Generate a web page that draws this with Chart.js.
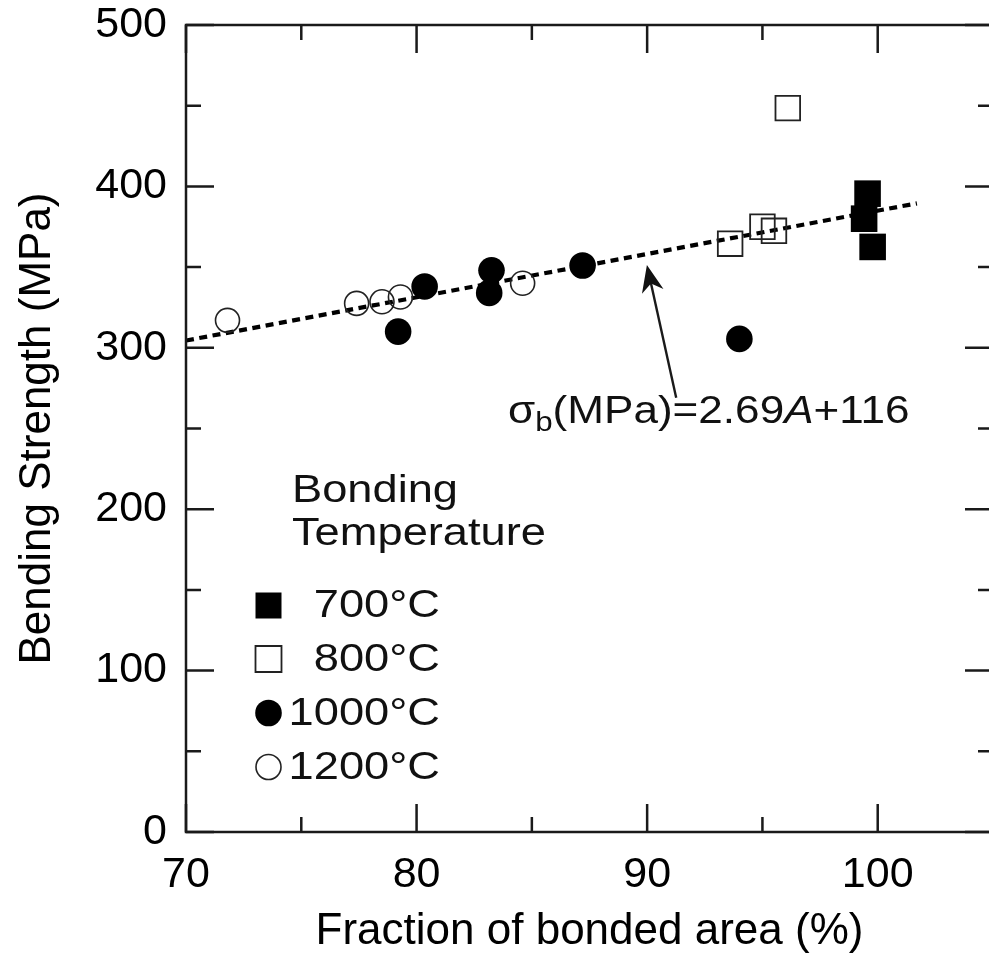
<!DOCTYPE html>
<html>
<head>
<meta charset="utf-8">
<script src="https://cdn.jsdelivr.net/npm/chart.js@4.4.0/dist/chart.umd.min.js"></script>
<style>
  html, body { margin: 0; padding: 0; background: #fff; overflow: hidden; }
</style>
</head>
<body>
<canvas id="chart" width="1000" height="966"></canvas>
<script>
// values
const temps = ['700°C', '800°C', '1000°C', '1200°C'];

const area700 = [99.56, 99.41, 99.78];
const strength700 = [395.5, 380, 362.5];

const area800 = [96.1, 93.6, 95.0, 95.5];
const strength800 = [448.5, 364.5, 375, 372.5];

const area1000 = [79.2, 80.35, 83.25, 83.15, 87.2, 94.0];
const strength1000 = [310, 338, 348, 334, 351, 305.5];

const area1200 = [71.8, 77.4, 78.5, 79.3, 84.6];
const strength1200 = [317, 327.5, 328.5, 331.5, 340];

const fitArea = [70, 101.7];
const fitStrength = [304.5, 389.5];

const xLabels = [70, 80, 90, 100];
const yLabels = [0, 100, 200, 300, 400, 500];

const FONT = '"Liberation Sans", Arial, Helvetica, sans-serif';
const INK = '#111';

const pts = (xs, ys) => xs.map((x, i) => ({ x, y: ys[i] }));

const markers = [
  { pointStyle: 'rect', radius: 18.8, fill: '#000', stroke: '#000', width: 0 },
  { pointStyle: 'rect', radius: 17.4, fill: 'rgba(0,0,0,0)', stroke: '#222', width: 1.8 },
  { pointStyle: 'circle', radius: 13.3, fill: '#000', stroke: '#000', width: 0 },
  { pointStyle: 'circle', radius: 12, fill: 'rgba(0,0,0,0)', stroke: '#222', width: 1.6 }
];
const series = [pts(area700, strength700), pts(area800, strength800), pts(area1000, strength1000), pts(area1200, strength1200)];

const datasets = series.map((data, i) => ({
  label: temps[i],
  data,
  pointStyle: markers[i].pointStyle,
  pointRadius: markers[i].radius,
  pointHoverRadius: markers[i].radius,
  backgroundColor: markers[i].fill,
  borderColor: markers[i].stroke,
  borderWidth: markers[i].width,
  order: 0
}));

datasets.push({
  label: 'fit',
  data: pts(fitArea, fitStrength),
  showLine: true,
  borderColor: '#000',
  borderWidth: 4.2,
  borderDash: [8, 5.5],
  pointRadius: 0,
  order: 10
});

function stretchedText(ctx, text, x, y, sx) {
  ctx.save();
  ctx.translate(x, y);
  ctx.scale(sx, 1);
  ctx.fillText(text, 0, 0);
  ctx.restore();
  return ctx.measureText(text).width * sx;
}

const frameAndTicks = {
  id: 'frameAndTicks',
  afterDatasetsDraw(chart) {
    const { ctx, chartArea: a, scales: { x, y } } = chart;
    ctx.save();
    ctx.strokeStyle = '#1a1a1a';
    ctx.lineWidth = 2.5;
    ctx.strokeRect(a.left, a.top, a.right - a.left, a.bottom - a.top);
    ctx.beginPath();
    x.ticks.forEach(t => {
      const px = x.getPixelForValue(t.value);
      const len = t.value % 10 === 0 ? 28 : 15;
      ctx.moveTo(px, a.bottom); ctx.lineTo(px, a.bottom - len);
      ctx.moveTo(px, a.top); ctx.lineTo(px, a.top + len);
    });
    y.ticks.forEach(t => {
      const py = y.getPixelForValue(t.value);
      const len = t.value % 100 === 0 ? 28 : 15;
      ctx.moveTo(a.left, py); ctx.lineTo(a.left + len, py);
      ctx.moveTo(a.right, py); ctx.lineTo(a.right - len, py);
    });
    ctx.stroke();

    // arrow pointing at the fit line
    const tail = { x: x.getPixelForValue(91.26), y: y.getPixelForValue(269) };
    const tip = { x: x.getPixelForValue(89.99), y: y.getPixelForValue(351.3) };
    const ang = Math.atan2(tip.y - tail.y, tip.x - tail.x);
    ctx.lineWidth = 2.4;
    ctx.beginPath();
    ctx.moveTo(tail.x, tail.y);
    ctx.lineTo(tip.x - 18 * Math.cos(ang), tip.y - 18 * Math.sin(ang));
    ctx.stroke();
    ctx.fillStyle = '#111';
    ctx.beginPath();
    ctx.moveTo(tip.x, tip.y);
    ctx.lineTo(tip.x - 27 * Math.cos(ang) + 11 * Math.sin(ang), tip.y - 27 * Math.sin(ang) - 11 * Math.cos(ang));
    ctx.lineTo(tip.x - 19 * Math.cos(ang), tip.y - 19 * Math.sin(ang));
    ctx.lineTo(tip.x - 27 * Math.cos(ang) - 11 * Math.sin(ang), tip.y - 27 * Math.sin(ang) + 11 * Math.cos(ang));
    ctx.closePath();
    ctx.fill();

    // equation
    const sx = 1.16;
    ctx.fillStyle = INK;
    ctx.textBaseline = 'alphabetic';
    ctx.textAlign = 'left';
    let cx = 508;
    const base = 423;
    ctx.font = `38px ${FONT}`;
    cx += stretchedText(ctx, 'σ', cx, base, sx);
    ctx.font = `27px ${FONT}`;
    cx += stretchedText(ctx, 'b', cx, base + 8, sx);
    ctx.font = `38px ${FONT}`;
    cx += stretchedText(ctx, '(MPa)=2.69', cx, base, sx);
    ctx.font = `italic 38px ${FONT}`;
    cx += stretchedText(ctx, 'A', cx, base, sx);
    ctx.font = `38px ${FONT}`;
    stretchedText(ctx, '+116', cx, base, sx);

    // legend
    ctx.font = `39px ${FONT}`;
    stretchedText(ctx, 'Bonding', 292, 502, sx);
    stretchedText(ctx, 'Temperature', 292, 545, sx);
    const rows = [605.5, 659, 713, 767];
    const mx = 268.5;
    rows.forEach((ry, i) => {
      const m = markers[i];
      ctx.beginPath();
      if (m.pointStyle === 'rect') {
        ctx.rect(mx - 13, ry - 13, 26, 26);
      } else {
        ctx.arc(mx, ry, m.width ? 12.5 : 13.3, 0, Math.PI * 2);
      }
      if (m.width) {
        ctx.lineWidth = m.width;
        ctx.strokeStyle = m.stroke;
        ctx.stroke();
      } else {
        ctx.fillStyle = m.fill;
        ctx.fill();
      }
      ctx.fillStyle = INK;
      ctx.textBaseline = 'middle';
      const w = ctx.measureText(temps[i]).width * sx;
      stretchedText(ctx, temps[i], 440 - w, ry + 1, sx);
    });
    ctx.restore();
  }
};

new Chart(document.getElementById('chart'), {
  type: 'scatter',
  data: { datasets },
  options: {
    responsive: false,
    animation: false,
    events: [],
    layout: { autoPadding: false, padding: { left: 0, top: 25, right: 7, bottom: 0 } },
    plugins: { legend: { display: false }, tooltip: { enabled: false } },
    scales: {
      x: {
        type: 'linear',
        min: 70,
        max: 105,
        afterFit(scale) {
          scale.height = 134;
          scale.paddingLeft = 0;
          scale.paddingRight = 0;
        },
        grid: { display: false, drawTicks: false },
        border: { display: false },
        ticks: {
          stepSize: 5,
          padding: 17,
          color: '#000',
          font: { family: FONT, size: 43 },
          maxRotation: 0,
          autoSkip: false,
          callback: v => xLabels.includes(v) ? String(v) : ''
        },
        title: {
          display: true,
          text: 'Fraction of bonded area (%)',
          color: '#000',
          font: { family: FONT, size: 44 },
          padding: { top: 0, bottom: 8 }
        }
      },
      y: {
        type: 'linear',
        min: 0,
        max: 500,
        afterFit(scale) {
          scale.width = 186;
          scale.paddingTop = 0;
          scale.paddingBottom = 0;
        },
        grid: { display: false, drawTicks: false },
        border: { display: false },
        ticks: {
          stepSize: 50,
          padding: 19,
          color: '#000',
          font: { family: FONT, size: 43 },
          autoSkip: false,
          callback: v => yLabels.includes(v) ? String(v) : ''
        },
        title: {
          display: true,
          text: 'Bending Strength (MPa)',
          color: '#000',
          font: { family: FONT, size: 44 },
          padding: { top: 11, bottom: 0 }
        }
      }
    }
  },
  plugins: [frameAndTicks]
});
</script>
</body>
</html>
